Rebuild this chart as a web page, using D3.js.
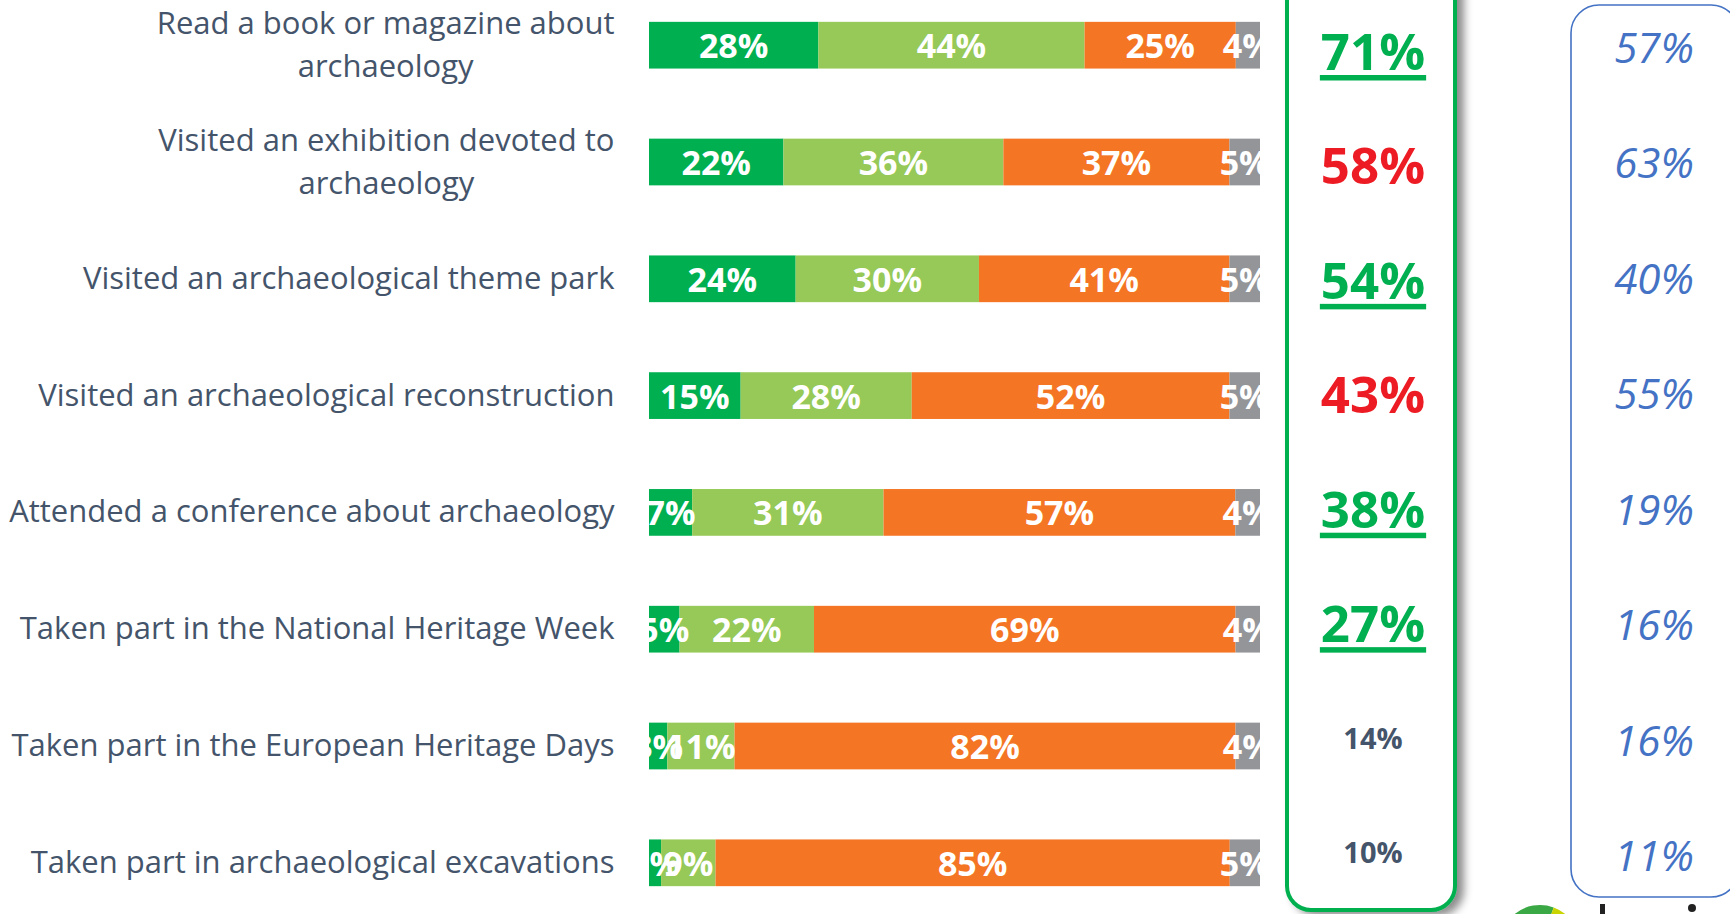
<!DOCTYPE html>
<html lang="en">
<head>
<meta charset="utf-8">
<title>Archaeology activities</title>
<script src="https://cdn.jsdelivr.net/npm/d3@7"></script>
<style>
  html, body { margin: 0; padding: 0; background: #fff; }
  svg { display: block; }
</style>
</head>
<body>
<script>
// activities (rows, top to bottom)
var activities = [
  ["Read a book or magazine about", "archaeology"],
  ["Visited an exhibition devoted to", "archaeology"],
  ["Visited an archaeological theme park"],
  ["Visited an archaeological reconstruction"],
  ["Attended a conference about archaeology"],
  ["Taken part in the National Heritage Week"],
  ["Taken part in the European Heritage Days"],
  ["Taken part in archaeological excavations"]
];

// stacked shares, in %
var seriesKeys = ["often", "sometimes", "never", "dk"];
var often     = [28, 22, 24, 15, 7, 5, 3, 2];
var sometimes = [44, 36, 30, 28, 31, 22, 11, 9];
var never     = [25, 37, 41, 52, 57, 69, 82, 85];
var dk        = [4, 5, 5, 5, 4, 4, 4, 5];

// totals in the green box and the comparison column
var totalDone   = [71, 58, 54, 43, 38, 27, 14, 10];
var significant = [true, true, true, true, true, true, false, false];
var benchmark   = [57, 63, 40, 55, 19, 16, 16, 11];

var W = 1730, H = 914;
var colors = { often: "#00b050", sometimes: "#96c957", never: "#f47524", dk: "#949599" };
var labelColor = "#44546a";

var rows = activities.map(function(a, i) {
  return { i: i, often: often[i], sometimes: sometimes[i], never: never[i], dk: dk[i] };
});

var svg = d3.select("body").append("svg")
  .attr("width", W).attr("height", H);

var defs = svg.append("defs");
defs.append("clipPath").attr("id", "barclip")
  .append("rect").attr("x", 649).attr("y", 0).attr("width", 611).attr("height", H);
var shadow = defs.append("filter").attr("id", "shadow")
  .attr("x", "-20%").attr("y", "-5%").attr("width", "140%").attr("height", "110%");
shadow.append("feDropShadow").attr("dx", 7).attr("dy", 4)
  .attr("stdDeviation", 4).attr("flood-color", "#000").attr("flood-opacity", 0.45);

// scales
var y = d3.scaleBand().domain(d3.range(activities.length))
  .range([-13.2, 921.2]).paddingInner(0.6).paddingOuter(0.3);
var x = d3.scaleLinear().domain([0, 1]).range([649, 1260]);
var yTot = d3.scalePoint().domain(d3.range(activities.length)).range([51, 852]);
var yBench = d3.scalePoint().domain(d3.range(activities.length)).range([47.5, 856]);

var stack = d3.stack().keys(seriesKeys).offset(d3.stackOffsetExpand);
var stacked = stack(rows);

// bars
var barG = svg.append("g").attr("clip-path", "url(#barclip)");
var layers = barG.selectAll("g.layer").data(stacked).enter()
  .append("g").attr("class", "layer").attr("fill", function(d) { return colors[d.key]; });

layers.selectAll("rect").data(function(d) { return d; }).enter()
  .append("rect")
  .attr("x", function(d) { return x(d[0]); })
  .attr("y", function(d, i) { return y(i); })
  .attr("width", function(d) { return x(d[1]) - x(d[0]); })
  .attr("height", y.bandwidth());

// segment labels (white, may be cut at the edges like the original)
stacked.forEach(function(layer) {
  barG.selectAll(null).data(layer).enter()
    .append("text")
    .attr("x", function(d) { return (x(d[0]) + x(d[1])) / 2; })
    .attr("y", function(d, i) { return y(i) + y.bandwidth() / 2 + 13; })
    .attr("text-anchor", "middle")
    .attr("font-family", "'Open Sans', sans-serif")
    .attr("font-weight", 700)
    .attr("font-size", "34px")
    .attr("fill", "#fff")
    .text(function(d) { return d.data[layer.key] + "%"; });
});

// category labels
var labelSize = 31, lineH = 43, labelRight = 614.5;
activities.forEach(function(lines, i) {
  var cy = y(i) + y.bandwidth() / 2;
  var t = svg.append("text")
    .attr("font-family", "'Open Sans', sans-serif")
    .attr("font-size", labelSize + "px")
    .attr("fill", labelColor)
    .attr("text-anchor", "middle");
  var spans = lines.map(function(s, k) {
    return t.append("tspan")
      .attr("y", cy + 10 + (k - (lines.length - 1) / 2) * lineH)
      .text(s);
  });
  var wMax = d3.max(spans, function(s) { return s.node().getComputedTextLength(); });
  spans.forEach(function(s) { s.attr("x", labelRight - wMax / 2); });
});

// green box with totals
svg.append("rect")
  .attr("x", 1287).attr("y", -40).attr("width", 168).attr("height", 950)
  .attr("rx", 24).attr("ry", 24)
  .attr("fill", "#fff").attr("stroke", "#00b050").attr("stroke-width", 4)
  .attr("filter", "url(#shadow)");

var boxCx = 1373;
totalDone.forEach(function(v, i) {
  var big = significant[i];
  var col = !big ? labelColor : (v > benchmark[i] ? "#00b050" : "#ed1c24");
  var t = svg.append("text")
    .attr("x", boxCx)
    .attr("y", yTot(i) + (big ? 19 : 11))
    .attr("text-anchor", "middle")
    .attr("font-family", "'Open Sans', sans-serif")
    .attr("font-weight", 700)
    .attr("font-size", big ? "51px" : "29px")
    .attr("fill", col)
    .text(v + "%");
  if (big && v > benchmark[i]) {
    var bb = t.node().getBBox();
    svg.append("rect")
      .attr("x", bb.x - 1).attr("width", bb.width + 2)
      .attr("y", yTot(i) + 24).attr("height", 5.5)
      .attr("fill", col);
  }
});

// blue comparison box
svg.append("rect")
  .attr("x", 1571).attr("y", 5).attr("width", 168).attr("height", 892)
  .attr("rx", 28).attr("ry", 28)
  .attr("fill", "none").attr("stroke", "#4472c4").attr("stroke-width", 1.6);

svg.selectAll("text.bench").data(benchmark).enter()
  .append("text").attr("class", "bench")
  .attr("x", 1654)
  .attr("y", function(d, i) { return yBench(i) + 15; })
  .attr("text-anchor", "middle")
  .attr("font-family", "'Open Sans', sans-serif")
  .attr("font-style", "italic")
  .attr("font-size", "42px")
  .attr("fill", "#4472c4")
  .text(function(d) { return d + "%"; });

// logo peeking in at the bottom edge
var logo = svg.append("g").attr("transform", "translate(1540,945)");
var arc = d3.arc().innerRadius(0).outerRadius(40);
[["#1f6fb5", -1.4, -0.7], ["#3aa845", -0.7, 0.35], ["#c9d400", 0.35, 1.4]].forEach(function(s) {
  logo.append("path").attr("d", arc({ startAngle: s[1], endAngle: s[2] })).attr("fill", s[0]);
});
svg.append("rect").attr("x", 1600).attr("y", 904).attr("width", 5).attr("height", 10).attr("fill", "#222");
svg.append("circle").attr("cx", 1692).attr("cy", 908).attr("r", 4).attr("fill", "#222");
</script>
</body>
</html>
